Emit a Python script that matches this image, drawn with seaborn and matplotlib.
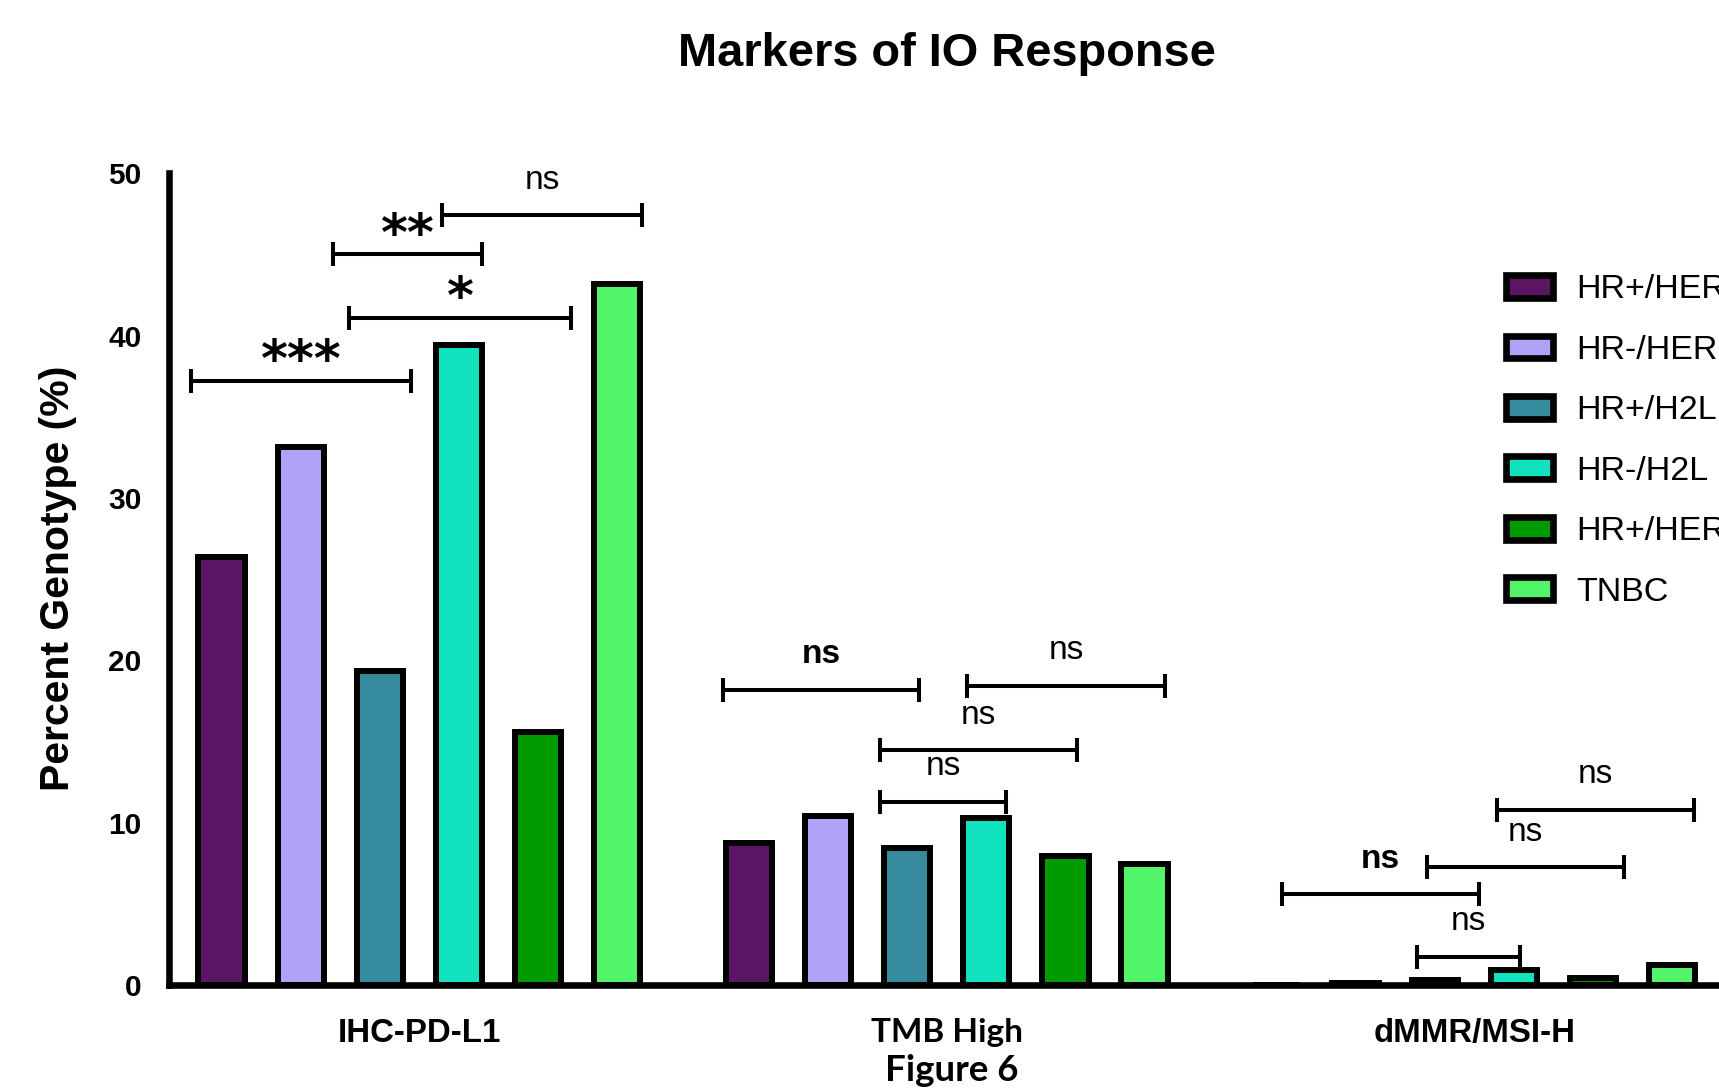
import matplotlib
matplotlib.use("Agg")
import matplotlib.pyplot as plt
from matplotlib.patches import Patch
import numpy as np
import pandas as pd
import seaborn as sns

# ---- data -------------------------------------------------------------
markers = ["IHC-PD-L1", "TMB High", "dMMR/MSI-H"]
subtypes = ["HR+/HER2-", "HR-/HER2+", "HR+/H2L", "HR-/H2L", "HR+/HER2+", "TNBC"]
colors = ["#5A1563", "#B0A2F8", "#358A9E", "#10E2BE", "#009B00", "#52F56A"]

ihc_pd_l1 = [26.35, 33.15, 19.35, 39.4, 15.55, 43.2]
tmb_high = [8.75, 10.4, 8.45, 10.3, 7.95, 7.45]
dmmr_msi_h = [0.0, 0.1, 0.3, 0.9, 0.4, 1.2]

y_ticks = [0, 10, 20, 30, 40, 50]

# significance brackets: (marker index, left offset, right offset, height, label, bold)
comparisons = [
    (0, -0.432, -0.015, 37.2, "***", True),
    (0, -0.133, 0.287, 41.1, "*", True),
    (0, -0.164, 0.1185, 45.0, "**", True),
    (0, 0.0437, 0.422, 47.4, "ns", False),
    (1, -0.425, -0.0525, 18.17, "ns", True),
    (1, 0.039, 0.413, 18.42, "ns", False),
    (1, -0.1265, 0.2465, 14.47, "ns", False),
    (1, -0.1265, 0.112, 11.29, "ns", False),
    (2, -0.365, 0.0099, 5.60, "ns", True),
    (2, -0.0899, 0.283, 7.24, "ns", False),
    (2, 0.0428, 0.4157, 10.78, "ns", False),
    (2, -0.109, 0.087, 1.74, "ns", False),
]

# ---- long-form table ----------------------------------------------------
values = [ihc_pd_l1, tmb_high, dmmr_msi_h]
df = pd.DataFrame(
    [(m, s, v) for m, vals in zip(markers, values) for s, v in zip(subtypes, vals)],
    columns=["marker", "subtype", "percent"],
)

sns.set_style("white")
plt.rcParams["font.family"] = ["Liberation Sans", "DejaVu Sans"]
for key in ("text.color", "axes.labelcolor", "xtick.color", "ytick.color",
            "axes.edgecolor"):
    plt.rcParams[key] = "black"

fig = plt.figure(figsize=(17.19, 10.88), dpi=100)
ax = fig.add_axes([0.0983, 0.09476, 0.9017, 0.7460])

sns.barplot(
    data=df, x="marker", y="percent", hue="subtype",
    order=markers, hue_order=subtypes, palette=colors,
    width=0.9, gap=0.416, saturation=1, errorbar=None,
    edgecolor="black", linewidth=4.3, legend=False, ax=ax,
)

ax.set_xlim(-0.4746, 2.464)
ax.set_ylim(0, 50)
ax.set_yticks(y_ticks)

for side in ("top", "right"):
    ax.spines[side].set_visible(False)
for side in ("left", "bottom"):
    ax.spines[side].set_linewidth(4.75)
    ax.spines[side].set_color("black")

ax.tick_params(axis="both", direction="out", length=15.8, width=4.75,
               color="black", labelcolor="black")
ax.tick_params(axis="y", pad=4, labelsize=21.5)
ax.tick_params(axis="x", pad=8)
for lbl in ax.get_yticklabels():
    lbl.set_fontweight("bold")
    lbl.set_fontfamily("Liberation Sans")

ax.set_xlabel("")
ax.set_ylabel("")
xfonts = {"IHC-PD-L1": ("Liberation Sans", 23.8),
          "TMB High": ("Lato", 24),
          "dMMR/MSI-H": ("Liberation Sans", 23.8)}
for lbl in ax.get_xticklabels():
    fam, size = xfonts[lbl.get_text()]
    lbl.set_fontfamily(fam)
    lbl.set_fontsize(size)
    lbl.set_fontweight("bold")

# significance brackets
cap = 0.74
for grp, x0, x1, y, label, bold in comparisons:
    a, b = grp + x0, grp + x1
    ax.plot([a, b], [y, y], color="black", lw=2.9, solid_capstyle="butt", clip_on=False)
    for xe in (a, b):
        ax.plot([xe, xe], [y - cap, y + cap], color="black", lw=2.9,
                solid_capstyle="butt", clip_on=False)
    if "*" in label:
        ax.text((a + b) / 2, y + 0.3, label, ha="center", va="baseline",
                fontsize=37, fontweight="bold", family="DejaVu Sans")
    else:
        ax.text((a + b) / 2, y + 1.63, label, ha="center", va="baseline",
                fontsize=24, fontweight="bold" if bold else "normal",
                family="Liberation Sans")

# legend
handles = [Patch(facecolor=c, edgecolor="black", linewidth=4.8) for c in colors]
fig.legend(
    handles, subtypes, loc="upper left",
    bbox_to_anchor=(1506.3 / 1719, 1 - 274.5 / 1088), bbox_transform=fig.transFigure,
    frameon=False, borderpad=0, borderaxespad=0,
    handlelength=1.37, handleheight=0.66, handletextpad=0.7,
    labelspacing=0.865, prop={"family": "Liberation Sans", "size": 24.5},
)

# titles
fig.text(947 / 1719, 1 - 66 / 1088, "Markers of IO Response", ha="center", va="baseline",
         fontsize=33.8, fontweight="bold", family="Liberation Sans")
fig.text(58 / 1719, 1 - 578 / 1088, "Percent Genotype (%)", rotation=90,
         ha="center", va="center", fontsize=29.5, fontweight="bold", family="Liberation Sans")
fig.text(951.7 / 1719, 1 - 1081 / 1088, "Figure 6", ha="center", va="baseline",
         fontsize=26.5, fontweight="bold", family="Lato")

fig.savefig("out.png", dpi=100)
